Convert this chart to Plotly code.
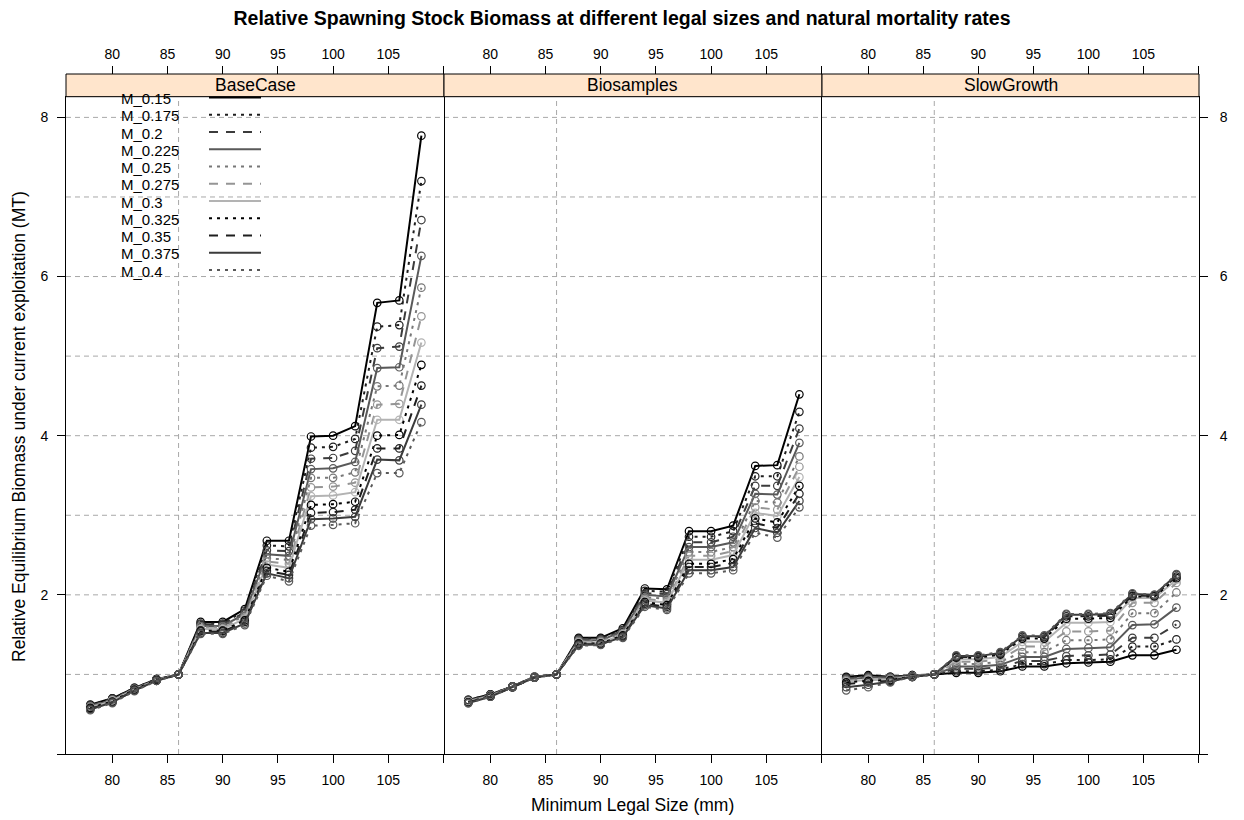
import plotly.graph_objects as go

# Minimum legal sizes (mm) on the x axis
SIZES = [78, 80, 82, 84, 86, 88, 90, 92, 94, 96, 98, 100, 102, 104, 106, 108]

# Natural mortality scenarios
M_LABELS = ["M_0.15", "M_0.175", "M_0.2", "M_0.225", "M_0.25", "M_0.275",
            "M_0.3", "M_0.325", "M_0.35", "M_0.375", "M_0.4"]

PANELS = ["BaseCase", "Biosamples", "SlowGrowth"]

# Relative equilibrium biomass, one row per mortality scenario
BASECASE = [
    [0.62, 0.70, 0.83, 0.94, 1.00, 1.66, 1.66, 1.82, 2.68, 2.68, 3.99, 4.00, 4.12, 5.67, 5.70, 7.77],
    [0.61, 0.70, 0.83, 0.94, 1.00, 1.64, 1.64, 1.80, 2.62, 2.61, 3.85, 3.86, 3.96, 5.37, 5.39, 7.20],
    [0.61, 0.69, 0.82, 0.94, 1.00, 1.63, 1.63, 1.78, 2.56, 2.55, 3.71, 3.72, 3.81, 5.10, 5.12, 6.71],
    [0.60, 0.68, 0.82, 0.93, 1.00, 1.61, 1.61, 1.76, 2.51, 2.49, 3.58, 3.59, 3.67, 4.85, 4.86, 6.26],
    [0.60, 0.68, 0.82, 0.93, 1.00, 1.60, 1.60, 1.74, 2.46, 2.44, 3.47, 3.47, 3.54, 4.62, 4.63, 5.86],
    [0.59, 0.67, 0.81, 0.93, 1.00, 1.58, 1.58, 1.72, 2.42, 2.39, 3.35, 3.36, 3.41, 4.39, 4.40, 5.50],
    [0.58, 0.67, 0.81, 0.93, 1.00, 1.57, 1.57, 1.70, 2.38, 2.34, 3.24, 3.25, 3.29, 4.20, 4.20, 5.17],
    [0.58, 0.66, 0.81, 0.93, 1.00, 1.55, 1.55, 1.68, 2.34, 2.29, 3.13, 3.14, 3.17, 4.00, 4.01, 4.89],
    [0.57, 0.65, 0.80, 0.92, 1.00, 1.54, 1.54, 1.66, 2.30, 2.25, 3.03, 3.04, 3.07, 3.84, 3.84, 4.63],
    [0.56, 0.65, 0.80, 0.92, 1.00, 1.52, 1.52, 1.64, 2.27, 2.21, 2.95, 2.96, 2.98, 3.70, 3.69, 4.39],
    [0.55, 0.64, 0.79, 0.92, 1.00, 1.51, 1.51, 1.62, 2.24, 2.17, 2.87, 2.88, 2.90, 3.53, 3.53, 4.17],
]

BIOSAMPLES = [
    [0.68, 0.75, 0.85, 0.97, 1.00, 1.46, 1.46, 1.58, 2.08, 2.07, 2.80, 2.80, 2.87, 3.62, 3.63, 4.52],
    [0.68, 0.75, 0.85, 0.97, 1.00, 1.45, 1.45, 1.56, 2.05, 2.04, 2.73, 2.73, 2.80, 3.49, 3.49, 4.30],
    [0.67, 0.74, 0.85, 0.97, 1.00, 1.44, 1.44, 1.55, 2.02, 2.01, 2.66, 2.66, 2.73, 3.37, 3.37, 4.09],
    [0.67, 0.74, 0.85, 0.97, 1.00, 1.43, 1.43, 1.54, 2.00, 1.98, 2.60, 2.60, 2.66, 3.27, 3.26, 3.91],
    [0.66, 0.74, 0.84, 0.97, 1.00, 1.42, 1.42, 1.52, 1.97, 1.95, 2.54, 2.54, 2.60, 3.18, 3.16, 3.74],
    [0.66, 0.73, 0.84, 0.96, 1.00, 1.41, 1.41, 1.51, 1.95, 1.92, 2.49, 2.49, 2.55, 3.10, 3.07, 3.61],
    [0.66, 0.73, 0.84, 0.96, 1.00, 1.40, 1.40, 1.50, 1.93, 1.90, 2.44, 2.44, 2.50, 3.03, 2.99, 3.48],
    [0.65, 0.73, 0.84, 0.96, 1.00, 1.39, 1.39, 1.49, 1.91, 1.87, 2.39, 2.39, 2.45, 2.96, 2.91, 3.37],
    [0.65, 0.72, 0.84, 0.96, 1.00, 1.38, 1.38, 1.48, 1.89, 1.85, 2.35, 2.35, 2.40, 2.90, 2.84, 3.27],
    [0.64, 0.72, 0.84, 0.96, 1.00, 1.37, 1.38, 1.47, 1.87, 1.83, 2.31, 2.31, 2.35, 2.84, 2.78, 3.18],
    [0.64, 0.72, 0.84, 0.96, 1.00, 1.36, 1.37, 1.46, 1.85, 1.81, 2.27, 2.27, 2.31, 2.78, 2.72, 3.10],
]

SLOWGROWTH = [
    [0.97, 0.99, 0.97, 0.99, 1.00, 1.02, 1.02, 1.04, 1.10, 1.10, 1.14, 1.15, 1.16, 1.24, 1.24, 1.31],
    [0.96, 0.98, 0.97, 0.99, 1.00, 1.04, 1.04, 1.06, 1.13, 1.13, 1.18, 1.18, 1.19, 1.35, 1.35, 1.44],
    [0.95, 0.97, 0.96, 0.98, 1.00, 1.07, 1.07, 1.09, 1.17, 1.17, 1.23, 1.24, 1.25, 1.46, 1.46, 1.63],
    [0.94, 0.96, 0.96, 0.98, 1.00, 1.10, 1.10, 1.12, 1.22, 1.22, 1.32, 1.33, 1.34, 1.62, 1.63, 1.84],
    [0.93, 0.95, 0.95, 0.98, 1.00, 1.13, 1.13, 1.16, 1.28, 1.28, 1.43, 1.43, 1.44, 1.77, 1.77, 2.03],
    [0.92, 0.94, 0.94, 0.98, 1.00, 1.16, 1.16, 1.19, 1.35, 1.35, 1.54, 1.54, 1.55, 1.90, 1.90, 2.15],
    [0.91, 0.93, 0.93, 0.97, 1.00, 1.19, 1.19, 1.22, 1.41, 1.41, 1.65, 1.65, 1.66, 1.96, 1.96, 2.19],
    [0.90, 0.92, 0.93, 0.97, 1.00, 1.21, 1.21, 1.25, 1.45, 1.45, 1.70, 1.70, 1.71, 1.98, 1.98, 2.21],
    [0.88, 0.90, 0.92, 0.97, 1.00, 1.22, 1.22, 1.26, 1.47, 1.47, 1.73, 1.73, 1.74, 1.99, 1.99, 2.23],
    [0.84, 0.87, 0.91, 0.97, 1.00, 1.23, 1.23, 1.27, 1.48, 1.48, 1.75, 1.75, 1.76, 2.01, 2.00, 2.25],
    [0.80, 0.84, 0.90, 0.97, 1.00, 1.24, 1.24, 1.28, 1.49, 1.49, 1.76, 1.76, 1.77, 2.02, 2.00, 2.26],
]

X_TICKS = [80, 85, 90, 95, 100, 105, 110]
X_TICK_TEXT = ["80", "85", "90", "95", "100", "105", ""]
Y_TICKS = [0, 2, 4, 6, 8]
Y_TICK_TEXT = ["", "2", "4", "6", "8"]
GRID_Y = [1, 2, 3, 4, 5, 6, 7, 8]
REF_SIZE = 86

# ---- styling -------------------------------------------------------------
FONT = "Liberation Sans, Arial, Helvetica, sans-serif"
GREYS = ["#000000", "#1e1e1e", "#3b3b3b", "#595959", "#777777", "#959595", "#b3b3b3"]
DASHES = ["solid", "3px,5px", "9px,8px"]
LINE_W = 2
GRID_COL = "#a8a8a8"
GRID_DASH = "5px,4px"
STRIP_FILL = "#ffe5cc"
TEXT_SIZE = 17.5
KEY_SIZE = 15

W, H = 1244, 820
ML, MR, MT, MB = 66, 45, 74, 66
PW, PH = W - ML - MR, H - MT - MB
STRIP_H = 22.7
Y_TOP = 1 - STRIP_H / PH
EDGES = [0, 378 / PW, 756 / PW, 1]
X_RANGE = [75.8, 110.05]
Y_RANGE = [0, 8.26]


def px_x(px):
    return (px - ML) / PW


def px_y(py):
    return (H - MB - py) / PH


fig = go.Figure()

panel_data = [BASECASE, BIOSAMPLES, SLOWGROWTH]
for p, rows in enumerate(panel_data):
    xa = "x" if p == 0 else f"x{p + 1}"
    ya = "y" if p == 0 else f"y{p + 1}"
    for i, vals in enumerate(rows):
        col = GREYS[i % len(GREYS)]
        fig.add_trace(go.Scatter(
            x=SIZES, y=vals, xaxis=xa, yaxis=ya, name=M_LABELS[i],
            mode="lines+markers", showlegend=False,
            line=dict(color=col, width=LINE_W, dash=DASHES[i % len(DASHES)]),
            marker=dict(symbol="circle-open", size=7.5, color=col,
                        line=dict(width=1.2, color=col)),
        ))
    # carrier trace for the top tick axis of this panel
    fig.add_trace(go.Scatter(
        x=SIZES, y=rows[0], xaxis=f"x{p + 4}", yaxis=ya, mode="markers",
        marker=dict(opacity=0), showlegend=False, hoverinfo="skip",
    ))

axis_font = dict(family=FONT, size=14, color="black")
common_x = dict(range=X_RANGE, tickmode="array", tickvals=X_TICKS,
                ticktext=X_TICK_TEXT, ticks="outside", ticklen=8, tickwidth=1,
                tickcolor="black", showgrid=False, zeroline=False,
                tickfont=axis_font)
layout_axes = {}
for p in range(3):
    key = "xaxis" if p == 0 else f"xaxis{p + 1}"
    layout_axes[key] = dict(common_x, domain=[EDGES[p], EDGES[p + 1]],
                            anchor="y" if p == 0 else f"y{p + 1}",
                            showline=True, mirror=True, linecolor="black",
                            linewidth=1, side="bottom", ticklabelstandoff=5)
    layout_axes[f"xaxis{p + 4}"] = dict(common_x, overlaying="x" if p == 0 else f"x{p + 1}",
                                        side="top", anchor="free", position=1,
                                        showline=False, ticklabelstandoff=1)

common_y = dict(range=Y_RANGE, domain=[0, Y_TOP], showgrid=False, zeroline=False,
                linecolor="black", linewidth=1)
layout_axes["yaxis"] = dict(common_y, anchor="x", side="left", tickmode="array",
                            showline=True, mirror=True,
                            tickvals=Y_TICKS, ticktext=Y_TICK_TEXT, ticks="outside",
                            ticklen=8, tickcolor="black", tickfont=axis_font,
                            ticklabelstandoff=6)
layout_axes["yaxis2"] = dict(common_y, anchor="x2", matches="y", showline=False,
                             showticklabels=False, ticks="")
layout_axes["yaxis3"] = dict(common_y, anchor="x3", matches="y", side="right",
                             showline=True, mirror=True,
                             tickmode="array", tickvals=Y_TICKS, ticktext=Y_TICK_TEXT,
                             ticks="outside", ticklen=8, tickcolor="black",
                             tickfont=axis_font, ticklabelstandoff=9)

shapes = []
annotations = []
for p in range(3):
    xs = "x" if p == 0 else f"x{p + 1}"
    ys = "y" if p == 0 else f"y{p + 1}"
    for k in GRID_Y:
        shapes.append(dict(type="line", xref=f"{xs} domain", yref=ys, x0=0, x1=1,
                           y0=k, y1=k, layer="below",
                           line=dict(color=GRID_COL, width=1, dash=GRID_DASH)))
    shapes.append(dict(type="line", xref=xs, yref=f"{ys} domain", x0=REF_SIZE,
                       x1=REF_SIZE, y0=0, y1=1, layer="below",
                       line=dict(color=GRID_COL, width=1, dash=GRID_DASH)))
    # strip above the panel
    shapes.append(dict(type="rect", xref="paper", yref="paper",
                       x0=EDGES[p], x1=EDGES[p + 1], y0=Y_TOP, y1=1,
                       fillcolor=STRIP_FILL, line=dict(color="black", width=1),
                       layer="above"))
    annotations.append(dict(text=PANELS[p], xref="paper", yref="paper",
                            x=(EDGES[p] + EDGES[p + 1]) / 2, y=(Y_TOP + 1) / 2,
                            xanchor="center", yanchor="middle", showarrow=False,
                            font=dict(family=FONT, size=TEXT_SIZE, color="black")))

# key inside the first panel: label then line sample
for i, lab in enumerate(M_LABELS):
    yc = 97.5 + 17.25 * i
    annotations.append(dict(text=lab, xref="paper", yref="paper", x=px_x(120),
                            y=px_y(yc + 1), xanchor="left", yanchor="middle",
                            showarrow=False, borderpad=0,
                            font=dict(family=FONT, size=KEY_SIZE, color="black")))
    shapes.append(dict(type="line", xref="paper", yref="paper",
                       x0=px_x(209), x1=px_x(261), y0=px_y(yc), y1=px_y(yc),
                       layer="above",
                       line=dict(color=GREYS[i % len(GREYS)], width=LINE_W,
                                 dash=DASHES[i % len(DASHES)])))

annotations.append(dict(text="Minimum Legal Size (mm)", xref="paper", yref="paper",
                        x=0.5, y=px_y(805), xanchor="center", yanchor="middle",
                        showarrow=False, font=dict(family=FONT, size=TEXT_SIZE, color="black")))
annotations.append(dict(text="Relative Equilibrium Biomass under current exploitation (MT)",
                        xref="paper", yref="paper", x=px_x(19), y=px_y(427),
                        xanchor="center", yanchor="middle", textangle=-90,
                        showarrow=False, font=dict(family=FONT, size=TEXT_SIZE, color="black")))

fig.update_layout(
    width=W, height=H,
    margin=dict(l=ML, r=MR, t=MT, b=MB),
    paper_bgcolor="white", plot_bgcolor="white",
    title=dict(text="<b>Relative Spawning Stock Biomass at different legal sizes and natural mortality rates</b>",
               x=0.5, xref="container", xanchor="center",
               y=1 - 18 / H, yref="container", yanchor="middle",
               font=dict(family=FONT, size=19.5, color="black")),
    shapes=shapes, annotations=annotations,
    showlegend=False,
    **layout_axes,
)

fig.write_html("out.html")
